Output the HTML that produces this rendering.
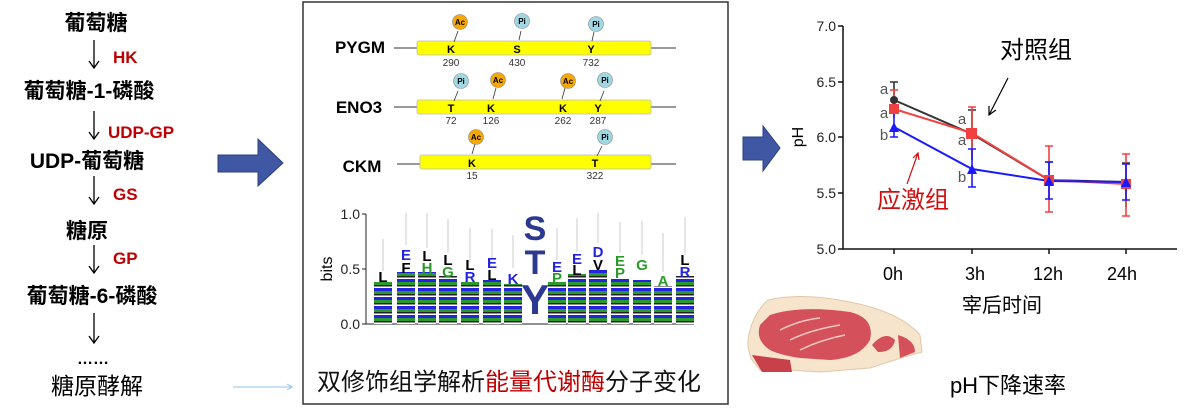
<!DOCTYPE html>
<html><head><meta charset="utf-8"><style>
body{margin:0;background:#fff;}
svg{display:block;font-family:"Liberation Sans","Noto Sans CJK SC",sans-serif;}
</style></head><body>
<svg width="1200" height="416" viewBox="0 0 1200 416" xmlns="http://www.w3.org/2000/svg">
<defs>
<pattern id="st" width="20" height="9" patternUnits="userSpaceOnUse">
<rect width="20" height="3" y="0" fill="#2323e0"/><rect width="20" height="3" y="3" fill="#2a9a2a"/><rect width="20" height="1.5" y="6" fill="#222"/><rect width="20" height="1.5" y="7.5" fill="#fff"/>
</pattern>
</defs>
<!-- left pathway -->
<g font-weight="bold" font-size="21" text-anchor="middle" fill="#000">
<text x="96" y="30">葡萄糖</text>
<text x="89" y="98">葡萄糖-1-磷酸</text>
<text x="87" y="168">UDP-葡萄糖</text>
<text x="87" y="238">糖原</text>
<text x="92" y="303">葡萄糖-6-磷酸</text>
</g>
<g font-weight="bold" font-size="17" fill="#c00000">
<text x="113" y="63">HK</text>
<text x="108" y="138">UDP-GP</text>
<text x="113" y="200">GS</text>
<text x="113" y="264">GP</text>
</g>
<g stroke="#000" stroke-width="1.3" fill="none">
<path d="M94 40 V67 M89 61 L94 68 L99 61"/>
<path d="M94 111 V138 M89 132 L94 139 L99 132"/>
<path d="M94 176 V203 M89 197 L94 204 L99 197"/>
<path d="M94 245 V272 M89 266 L94 273 L99 266"/>
<path d="M94 313 V342 M89 336 L94 343 L99 336"/>
</g>
<text x="93" y="364" font-size="16" text-anchor="middle" font-weight="bold">……</text>
<text x="97" y="394" font-size="23" text-anchor="middle">糖原酵解</text>
<path d="M233 387 H292 M287 384 L292 387 L287 390" stroke="#8fc3ec" stroke-width="1" fill="none"/>
<!-- big arrows -->
<path d="M218 155 H258 V139 L283 163 L258 186 V172 H218 Z" fill="#4058a4" stroke="#2c3f7c" stroke-width="1"/>
<path d="M743 137 H763 V126 L780 148 L763 171 V160 H743 Z" fill="#4058a4" stroke="#2c3f7c" stroke-width="1"/>
<!-- middle box -->
<rect x="303" y="2" width="425" height="402" fill="#fff" stroke="#333" stroke-width="1.5"/>
<g font-weight="bold" font-size="17" text-anchor="middle"><text x="360" y="53">PYGM</text><text x="359" y="113">ENO3</text><text x="362" y="172">CKM</text></g>
<g stroke="#333" stroke-width="1"><line x1="394" y1="48" x2="676" y2="48"/><line x1="394" y1="107" x2="676" y2="107"/><line x1="397" y1="164" x2="676" y2="164"/></g>
<g fill="#ffff00" stroke="#bbb" stroke-width="0.8"><rect x="417" y="41" width="234" height="14" rx="2"/><rect x="417" y="100" width="234" height="14" rx="2"/><rect x="420" y="155" width="231" height="14" rx="2"/></g>
<g font-weight="bold" font-size="11" text-anchor="middle">
<text x="451" y="53">K</text><text x="517" y="53">S</text><text x="591" y="53">Y</text>
<text x="451" y="112">T</text><text x="491" y="112">K</text><text x="563" y="112">K</text><text x="598" y="112">Y</text>
<text x="472" y="167">K</text><text x="595" y="167">T</text>
</g>
<g font-size="10" text-anchor="middle" fill="#333">
<text x="451" y="66">290</text><text x="517" y="66">430</text><text x="591" y="66">732</text>
<text x="451" y="124">72</text><text x="491" y="124">126</text><text x="563" y="124">262</text><text x="598" y="124">287</text>
<text x="472" y="179">15</text><text x="595" y="179">322</text>
</g>
<g stroke="#333" stroke-width="0.8" fill="none">
<path d="M454 42 L458 31"/><path d="M521 31 L519 40"/><path d="M594 32 L592 41"/>
<path d="M454 101 L458 91"/><path d="M496 88 L493 99"/><path d="M565 88 L562 99"/><path d="M600 101 L604 91"/>
<path d="M475 144 L472 154"/><path d="M597 156 L602 146"/>
</g>
<g stroke="#888" stroke-width="0.6">
<circle cx="460" cy="22" r="7.5" fill="#f5a800"/><circle cx="522" cy="21" r="7.5" fill="#9fd8e3"/><circle cx="596" cy="24" r="7.5" fill="#9fd8e3"/>
<circle cx="461" cy="81" r="7.5" fill="#9fd8e3"/><circle cx="498" cy="80" r="7.5" fill="#f5a800"/><circle cx="568" cy="81" r="7.5" fill="#f5a800"/><circle cx="605" cy="80" r="7.5" fill="#9fd8e3"/>
<circle cx="476" cy="137" r="7.5" fill="#f5a800"/><circle cx="605" cy="137" r="7.5" fill="#9fd8e3"/>
</g>
<g font-weight="bold" font-size="8" text-anchor="middle">
<text x="460" y="25">Ac</text><text x="522" y="24">Pi</text><text x="596" y="27">Pi</text>
<text x="461" y="84">Pi</text><text x="498" y="83">Ac</text><text x="568" y="84">Ac</text><text x="605" y="83">Pi</text>
<text x="476" y="140">Ac</text><text x="605" y="140">Pi</text>
</g>
<!-- sequence logo -->
<g stroke="#222" stroke-width="1" fill="none"><path d="M366 214 V324 H694"/><path d="M362 214 H366 M362 269 H366 M362 324 H366"/></g>
<g font-size="14" text-anchor="end" fill="#222"><text x="360" y="219">1.0</text><text x="360" y="274">0.5</text><text x="360" y="329">0.0</text></g>
<text x="0" y="0" font-size="16" transform="translate(332,269) rotate(-90)" text-anchor="middle">bits</text>
<g stroke="#ccc" stroke-width="1">
<path d="M383 239V271M406 213V245M427 213V248M448 219V253M470 228V262M492 229V258M513 235V268M557 228V260M577 218V252M598 213V243M620 222V253M642 221V255M663 233V272M685 217V255"/>
</g>
<g fill="url(#st)">
<rect x="374" y="282" width="18" height="42"/><rect x="397" y="272" width="18" height="52"/><rect x="418" y="272" width="18" height="52"/><rect x="439" y="276" width="18" height="48"/><rect x="461" y="282" width="18" height="42"/><rect x="483" y="280" width="18" height="44"/><rect x="504" y="284" width="18" height="40"/><rect x="548" y="282" width="18" height="42"/><rect x="568" y="274" width="18" height="50"/><rect x="589" y="270" width="18" height="54"/><rect x="611" y="278" width="18" height="46"/><rect x="633" y="280" width="18" height="44"/><rect x="654" y="286" width="18" height="38"/><rect x="676" y="276" width="18" height="48"/>
</g>
<g font-weight="bold" font-size="15" text-anchor="middle">
<text x="383" y="282">L</text><text x="406" y="260" fill="#2323e0">E</text><text x="406" y="273">F</text><text x="427" y="261">L</text><text x="427" y="273" fill="#2a9a2a">H</text><text x="448" y="265">L</text><text x="448" y="277" fill="#2a9a2a">G</text><text x="470" y="270">L</text><text x="470" y="282" fill="#2323e0">R</text><text x="492" y="268" fill="#2323e0">E</text><text x="492" y="280">L</text><text x="513" y="284" fill="#2323e0">K</text><text x="557" y="272" fill="#2323e0">E</text><text x="557" y="283" fill="#2a9a2a">P</text><text x="577" y="264" fill="#2323e0">E</text><text x="577" y="275">L</text><text x="598" y="257" fill="#2323e0">D</text><text x="598" y="270">V</text><text x="620" y="266" fill="#2a9a2a">E</text><text x="620" y="278" fill="#2a9a2a">P</text><text x="642" y="270" fill="#2a9a2a">G</text><text x="663" y="286" fill="#2a9a2a">A</text><text x="685" y="265">L</text><text x="685" y="277" fill="#2323e0">R</text>
</g>
<g font-weight="bold" fill="#2b3990" text-anchor="middle"><text x="535" y="240" font-size="34">S</text><text x="535" y="274" font-size="34">T</text><text x="535" y="314" font-size="42">Y</text></g>
<text x="317" y="390" font-size="24" fill="#111">双修饰组学解析<tspan fill="#c00000">能量代谢酶</tspan>分子变化</text>
<!-- chart -->
<g stroke="#111" stroke-width="1.5" fill="none"><path d="M843 26 V249 H1177"/><path d="M838 26H843M838 82H843M838 137H843M838 193H843M838 249H843M894 249V254M972 249V254M1049 249V254M1126 249V254"/></g>
<g font-size="14" text-anchor="end" fill="#222"><text x="836" y="31">7.0</text><text x="836" y="87">6.5</text><text x="836" y="142">6.0</text><text x="836" y="198">5.5</text><text x="836" y="254">5.0</text></g>
<text font-size="16" transform="translate(803,137) rotate(-90)" text-anchor="middle">pH</text>
<g font-size="18" text-anchor="middle"><text x="893" y="280">0h</text><text x="975" y="280">3h</text><text x="1048" y="280">12h</text><text x="1122" y="280">24h</text></g>
<text x="1002" y="312" font-size="20" text-anchor="middle">宰后时间</text>
<g stroke-width="1.6" fill="none">
<path stroke="#333" d="M894 82V104M890 82H898M972 110V160M968 110H976M1049 162V199M1045 162H1053M1126 163V207M1122 163H1130"/>
<path stroke="#f04040" d="M894 90V118M890 90H898M972 107V158M968 107H976M1049 146V212M1045 146H1053M1126 154V216M1122 154H1130M1122 216H1130M1045 212H1053"/>
<path stroke="#1a1aff" d="M894 112V137M890 137H898M890 112H898M972 149V187M968 149H976M968 187H976M1049 162V199M1045 199H1053M1045 162H1053M1126 164V200M1122 164H1130M1122 200H1130"/>
</g>
<polyline points="894,100 972,134 1049,180 1126,182" fill="none" stroke="#333" stroke-width="2"/>
<polyline points="894,109 972,133 1049,180 1126,184" fill="none" stroke="#f04040" stroke-width="2"/>
<polyline points="894,127 972,169 1049,181 1126,182" fill="none" stroke="#1a1aff" stroke-width="2"/>
<circle cx="894" cy="100" r="4" fill="#333"/>
<rect x="889" y="104" width="10" height="10" fill="#f04040"/><rect x="966" y="128" width="11" height="11" fill="#f04040"/><rect x="1044" y="175" width="10" height="10" fill="#f04040"/><rect x="1121" y="179" width="10" height="10" fill="#f04040"/>
<g fill="#1a1aff"><path d="M889 132 L894 122 L899 132Z"/><path d="M967 174 L972 164 L977 174Z"/><path d="M1044 186 L1049 176 L1054 186Z"/><path d="M1121 187 L1126 177 L1131 187Z"/></g>
<g font-size="15" fill="#555" text-anchor="middle"><text x="884" y="94">a</text><text x="884" y="118">a</text><text x="884" y="140">b</text><text x="962" y="124">a</text><text x="962" y="145">a</text><text x="962" y="182">b</text></g>
<text x="1036" y="58" font-size="24" text-anchor="middle">对照组</text>
<path d="M1008 78 L989 115 M989 106 L989 115 L996 110" stroke="#000" stroke-width="1.2" fill="none"/>
<text x="913" y="208" font-size="24" text-anchor="middle" fill="#d01010">应激组</text>
<path d="M907 184 L918 153 M913 158 L918 153 L919 160" stroke="#d01010" stroke-width="1.2" fill="none"/>
<!-- meat -->
<g>
<path d="M768 300 Q800 292 850 302 Q900 312 920 335 L922 352 Q900 358 870 368 L820 372 L790 370 Q770 373 760 370 L752 360 Q745 345 750 330 Q755 312 768 300Z" fill="#f6e4cc" stroke="#e0c8a8"/>
<path d="M770 315 Q800 305 850 312 Q875 318 870 340 Q860 358 830 360 L800 358 Q780 355 770 350 Q755 340 760 325Z" fill="#d4505a"/>
<path d="M872 345 Q885 330 895 340 Q893 352 878 352Z" fill="#d4505a"/>
<path d="M898 335 Q915 340 915 352 L900 358 Z" fill="#d4505a"/>
<path d="M752 355 L790 360 L792 372 L762 372Z" fill="#c8404a"/>
<path d="M780 330 Q800 320 820 318 M790 340 Q810 330 840 325 M800 350 Q820 340 845 335" stroke="#f3c9c2" stroke-width="1.5" fill="none"/>
</g>
<text x="1008" y="393" font-size="22" text-anchor="middle">pH下降速率</text>
</svg>
</body></html>
